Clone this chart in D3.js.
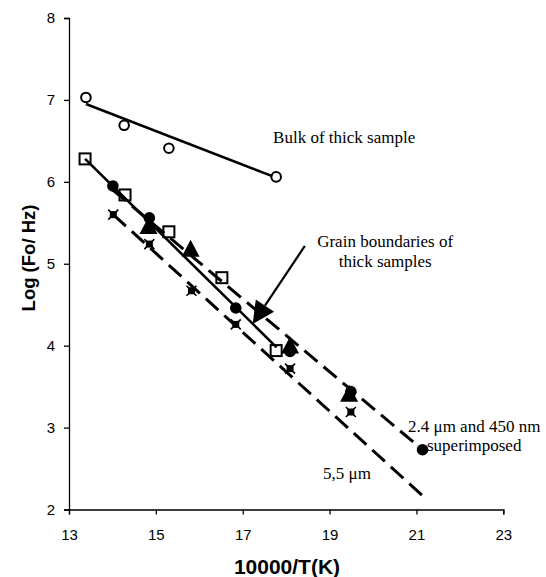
<!DOCTYPE html>
<html>
<head>
<meta charset="utf-8">
<script src="https://cdn.jsdelivr.net/npm/d3@7"></script>
<style>
  html, body { margin: 0; padding: 0; background: #fff; }
  svg { display: block; }
</style>
</head>
<body>
<svg id="chart" width="546" height="577"></svg>
<script>
// ---- data ----
const xTicks = [13, 15, 17, 19, 21, 23];
const yTicks = [2, 3, 4, 5, 6, 7, 8];

const bulkX = [13.39, 14.27, 15.30, 17.77];
const bulkY = [7.03, 6.69, 6.41, 6.06];

const thickGBX = [13.37, 14.29, 15.30, 16.52, 17.77];
const thickGBY = [6.28, 5.84, 5.39, 4.83, 3.94];

const um24X = [14.01, 14.85, 16.84, 18.09, 19.49, 21.14];
const um24Y = [5.95, 5.56, 4.46, 3.93, 3.44, 2.73];

const nm450X = [14.83, 15.80, 18.09, 19.45];
const nm450Y = [5.45, 5.17, 3.99, 3.40];

const um55X = [14.02, 14.85, 15.82, 16.84, 18.09, 19.49];
const um55Y = [5.60, 5.24, 4.67, 4.26, 3.72, 3.19];

// fitted lines (end points)
const bulkFitX = [13.39, 17.68];
const bulkFitY = [6.95, 6.07];
const gbFitX = [13.37, 17.78];
const gbFitY = [6.28, 3.98];
const thinFitX = [14.01, 21.14];
const thinFitY = [5.90, 2.73];
const um55FitX = [14.02, 21.18];
const um55FitY = [5.60, 2.15];

// annotation arrow (data units): from -> tip
const arrowX = [18.43, 17.23];
const arrowY = [5.217, 4.265];

const labels = [
  {text: "Bulk of thick sample", x: 17.70, y: 6.48, anchor: "start"},
  {text: "Grain boundaries of", x: 20.28, y: 5.205, anchor: "middle"},
  {text: "thick samples", x: 20.28, y: 4.955, anchor: "middle"},
  {text: "2.4 \u03bcm and 450 nm", x: 22.33, y: 2.952, anchor: "middle"},
  {text: "superimposed", x: 22.33, y: 2.72, anchor: "middle"},
  {text: "5,5 \u03bcm", x: 18.85, y: 2.372, anchor: "start"}
];

// ---- chart ----
const svg = d3.select("#chart");
const x = d3.scaleLinear().domain([13, 23]).range([69, 503.3]);
const y = d3.scaleLinear().domain([2, 8]).range([509.5, 18]);

const sans = "'Liberation Sans', Arial, sans-serif";
const serif = "'Liberation Serif', 'Times New Roman', serif";

const xAxis = svg.append("g")
  .attr("transform", `translate(0,${y(2)})`)
  .call(d3.axisBottom(x).tickValues(xTicks).tickSize(5).tickPadding(15).tickFormat(d3.format("d")));
const yAxis = svg.append("g")
  .attr("transform", `translate(${x(13)},0)`)
  .call(d3.axisLeft(y).tickValues(yTicks).tickSize(5).tickPadding(9).tickFormat(d3.format("d")));
[xAxis, yAxis].forEach(g => {
  g.select(".domain").attr("stroke", "#000").attr("stroke-width", 1.3);
  g.selectAll(".tick line").attr("stroke", "#000").attr("stroke-width", 1.3);
  g.selectAll("text").attr("font-family", sans).attr("font-size", 15).attr("fill", "#000");
});

svg.append("text")
  .attr("x", 287).attr("y", 574)
  .attr("text-anchor", "middle")
  .attr("font-family", sans).attr("font-weight", "bold").attr("font-size", 21)
  .text("10000/T(K)");

svg.append("text")
  .attr("transform", "translate(35,258) rotate(-90)")
  .attr("text-anchor", "middle")
  .attr("font-family", sans).attr("font-weight", "bold").attr("font-size", 18.5)
  .text("Log (Fo/ Hz)");

const pts = (xs, ys) => xs.map((v, i) => [v, ys[i]]);

// markers
const g = svg.append("g");
// bulk: open circles
g.selectAll(".bulk").data(pts(bulkX, bulkY)).join("circle")
  .attr("cx", d => x(d[0])).attr("cy", d => y(d[1])).attr("r", 4.8)
  .attr("fill", "#fff").attr("stroke", "#000").attr("stroke-width", 2);
// thick grain boundaries: open squares
g.selectAll(".gb").data(pts(thickGBX, thickGBY)).join("rect")
  .attr("x", d => x(d[0]) - 5.5).attr("y", d => y(d[1]) - 5.5)
  .attr("width", 11).attr("height", 11)
  .attr("fill", "#fff").attr("stroke", "#000").attr("stroke-width", 2);
// 2.4 um: filled circles
g.selectAll(".c24").data(pts(um24X, um24Y)).join("circle")
  .attr("cx", d => x(d[0])).attr("cy", d => y(d[1])).attr("r", 5.8)
  .attr("fill", "#000");
// 450 nm: filled triangles
g.selectAll(".t450").data(pts(nm450X, nm450Y)).join("path")
  .attr("d", d => {
    const cx = x(d[0]), cy = y(d[1]);
    return `M${cx},${cy - 10}L${cx + 9},${cy + 7}L${cx - 9},${cy + 7}Z`;
  })
  .attr("fill", "#000");
// 5.5 um: small squares with a cross
const s55 = g.selectAll(".s55").data(pts(um55X, um55Y)).join("g")
  .attr("transform", d => `translate(${x(d[0])},${y(d[1])})`);
s55.append("rect").attr("x", -3.5).attr("y", -3.5).attr("width", 7).attr("height", 7).attr("fill", "#000");
s55.append("path").attr("d", "M-5,-5L5,5M-5,5L5,-5").attr("stroke", "#000").attr("stroke-width", 1.6);

// fitted lines on top
const line = d3.line().x(d => x(d[0])).y(d => y(d[1]));
svg.append("path").datum(pts(bulkFitX, bulkFitY)).attr("d", line)
  .attr("fill", "none").attr("stroke", "#000").attr("stroke-width", 2.6);
svg.append("path").datum(pts(gbFitX, gbFitY)).attr("d", line)
  .attr("fill", "none").attr("stroke", "#000").attr("stroke-width", 2.6);
svg.append("path").datum(pts(thinFitX, thinFitY)).attr("d", line)
  .attr("fill", "none").attr("stroke", "#000").attr("stroke-width", 3)
  .attr("stroke-dasharray", "17,8");
svg.append("path").datum(pts(um55FitX, um55FitY)).attr("d", line)
  .attr("fill", "none").attr("stroke", "#000").attr("stroke-width", 3)
  .attr("stroke-dasharray", "17,8");

// arrow
const ax0 = x(arrowX[0]), ay0 = y(arrowY[0]), ax1 = x(arrowX[1]), ay1 = y(arrowY[1]);
const ang = Math.atan2(ay1 - ay0, ax1 - ax0);
const headLen = 22, headHalf = 11;
const bx = ax1 - headLen * Math.cos(ang), by = ay1 - headLen * Math.sin(ang);
svg.append("line").attr("x1", ax0).attr("y1", ay0).attr("x2", bx).attr("y2", by)
  .attr("stroke", "#000").attr("stroke-width", 2.2);
svg.append("path")
  .attr("d", `M${ax1},${ay1}L${bx + headHalf * Math.sin(ang)},${by - headHalf * Math.cos(ang)}L${bx - headHalf * Math.sin(ang)},${by + headHalf * Math.cos(ang)}Z`)
  .attr("fill", "#000");

// annotations
svg.selectAll(".ann").data(labels).join("text")
  .attr("x", d => x(d.x)).attr("y", d => y(d.y))
  .attr("text-anchor", d => d.anchor)
  .attr("font-family", serif).attr("font-size", 17).attr("fill", "#000")
  .text(d => d.text);
</script>
</body>
</html>
